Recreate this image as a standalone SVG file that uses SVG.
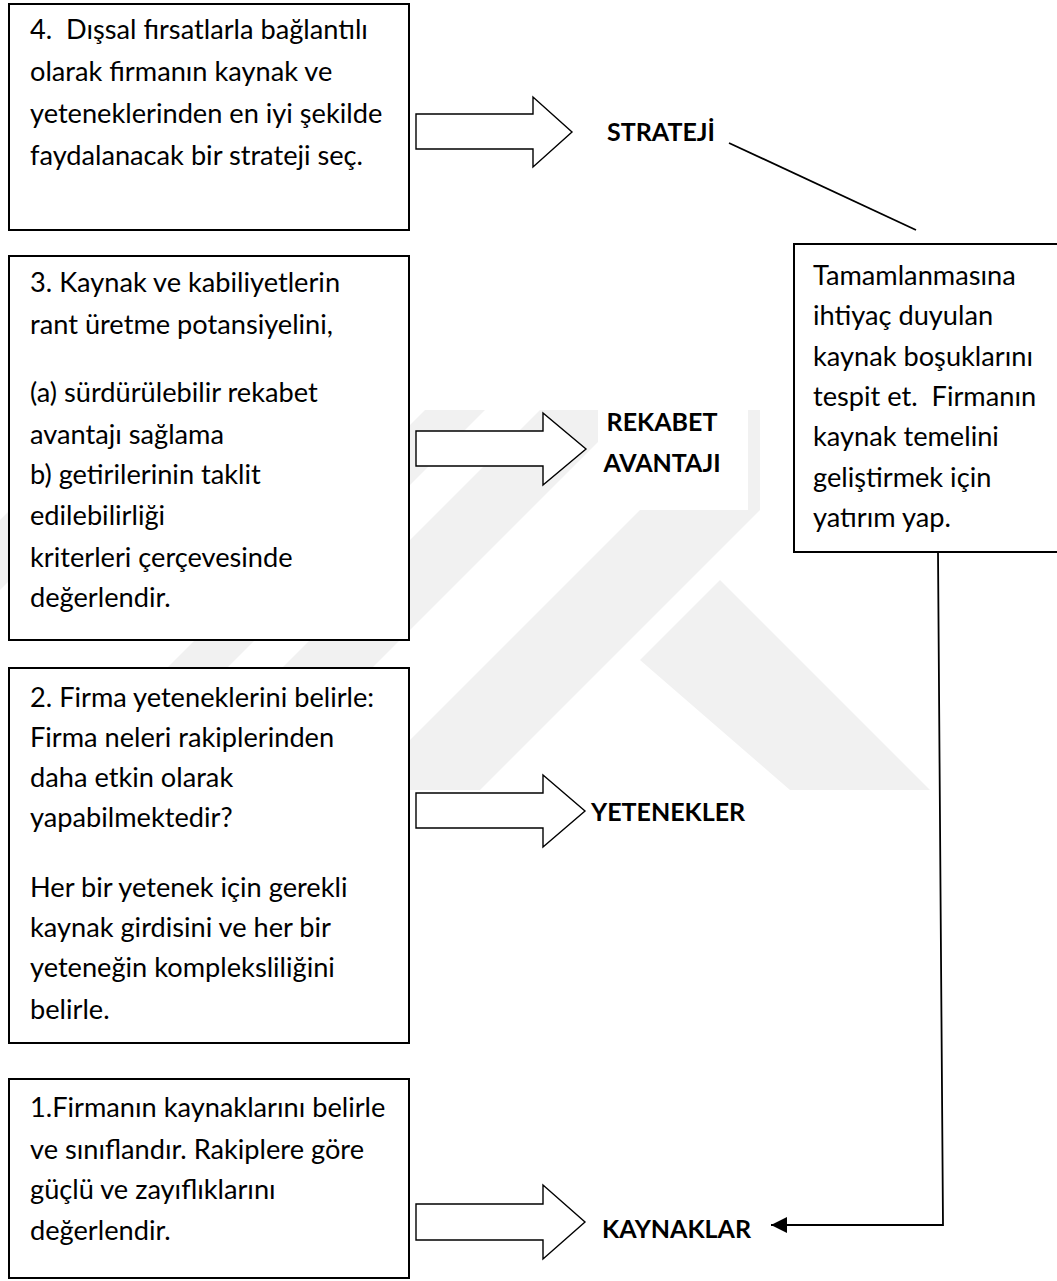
<svg xmlns="http://www.w3.org/2000/svg" width="1057" height="1281" viewBox="0 0 1057 1281">
  <style>
    .box { fill: #fff; stroke: #000; stroke-width: 2; }
    .blk { fill: #fff; stroke: #000; stroke-width: 1.4; stroke-linejoin: miter; }
    .t { font-family: Lato, "Open Sans", sans-serif; font-size: 27.2px; fill: #000; }
    .lbl { font-family: Lato, "Open Sans", sans-serif; font-weight: 700; font-size: 25px; fill: #000; }
    .wm { fill: #f1f1f1; }
    .conn { fill: none; stroke: #000; stroke-width: 1.8; }
  </style>
  <defs>
    <marker id="head" markerUnits="userSpaceOnUse" markerWidth="17" markerHeight="17" refX="16" refY="8" orient="auto">
      <path d="M0,0 L16,8 L0,16 Z" fill="#000"/>
    </marker>
  </defs>
  <rect width="1057" height="1281" fill="#fff"/>

  <!-- faint background emblem -->
  <g id="emblem">
    <polygon class="wm" points="0,520 0,590 180,410 110,410"/>
    <polygon class="wm" points="45,790 105,790 485,410 425,410"/>
    <polygon class="wm" points="160,790 250,790 630,410 540,410"/>
    <polygon class="wm" points="360,790 480,790 760,510 760,410 740,410"/>
    <polygon class="wm" points="640,660 720,580 930,790 790,790"/>
  </g>

  <!-- step boxes -->
  <g id="step4">
    <rect class="box" x="9" y="4" width="400" height="226"/>
    <text class="t" x="30" y="39">4.&#160; Dışsal fırsatlarla bağlantılı</text>
    <text class="t" x="30" y="81">olarak firmanın kaynak ve</text>
    <text class="t" x="30" y="123">yeteneklerinden en iyi şekilde</text>
    <text class="t" x="30" y="165">faydalanacak bir strateji seç.</text>
  </g>
  <g id="step3">
    <rect class="box" x="9" y="256" width="400" height="384"/>
    <text class="t" x="30" y="292">3. Kaynak ve kabiliyetlerin</text>
    <text class="t" x="30" y="334">rant üretme potansiyelini,</text>
    <text class="t" x="30" y="402">(a) sürdürülebilir rekabet</text>
    <text class="t" x="30" y="444">avantajı sağlama</text>
    <text class="t" x="30" y="484">b) getirilerinin taklit</text>
    <text class="t" x="30" y="525">edilebilirliği</text>
    <text class="t" x="30" y="567">kriterleri çerçevesinde</text>
    <text class="t" x="30" y="607">değerlendir.</text>
  </g>
  <g id="step2">
    <rect class="box" x="9" y="668" width="400" height="375"/>
    <text class="t" x="30" y="707">2. Firma yeteneklerini belirle:</text>
    <text class="t" x="30" y="747">Firma neleri rakiplerinden</text>
    <text class="t" x="30" y="787">daha etkin olarak</text>
    <text class="t" x="30" y="827">yapabilmektedir?</text>
    <text class="t" x="30" y="897">Her bir yetenek için gerekli</text>
    <text class="t" x="30" y="937">kaynak girdisini ve her bir</text>
    <text class="t" x="30" y="977">yeteneğin kompleksliliğini</text>
    <text class="t" x="30" y="1019">belirle.</text>
  </g>
  <g id="step1">
    <rect class="box" x="9" y="1079" width="400" height="199"/>
    <text class="t" x="30" y="1117">1.Firmanın kaynaklarını belirle</text>
    <text class="t" x="30" y="1159">ve sınıflandır. Rakiplere göre</text>
    <text class="t" x="30" y="1199">güçlü ve zayıflıklarını</text>
    <text class="t" x="30" y="1240">değerlendir.</text>
  </g>
  <g id="gaps">
    <rect class="box" x="794" y="244" width="272" height="308"/>
    <text class="t" x="813" y="285">Tamamlanmasına</text>
    <text class="t" x="813" y="325">ihtiyaç duyulan</text>
    <text class="t" x="813" y="366">kaynak boşuklarını</text>
    <text class="t" x="813" y="406">tespit et.&#160; Firmanın</text>
    <text class="t" x="813" y="446">kaynak temelini</text>
    <text class="t" x="813" y="487">geliştirmek için</text>
    <text class="t" x="813" y="527">yatırım yap.</text>
  </g>

  <!-- connectors -->
  <g id="connectors">
    <polygon class="blk" points="416,114 533,114 533,97 572,132 533,167 533,149 416,149"/>
    <polygon class="blk" points="416,431 543,431 543,413 586,449 543,485 543,466 416,466"/>
    <polygon class="blk" points="416,793 543,793 543,775 585,811 543,847 543,828 416,828"/>
    <polygon class="blk" points="416,1204 543,1204 543,1185 585,1222 543,1259 543,1240 416,1240"/>
    <line class="conn" x1="729" y1="143" x2="916" y2="230"/>
    <path class="conn" d="M938,552 L943,1225 L771,1225" marker-end="url(#head)"/>
  </g>

  <!-- outcome labels -->
  <g id="strateji">
    <text class="lbl" x="607" y="141">STRATEJİ</text>
  </g>
  <g id="rekabet">
    <rect x="598" y="408" width="150" height="102" fill="#fff"/>
    <text class="lbl" x="662" y="431" text-anchor="middle">REKABET</text>
    <text class="lbl" x="662" y="472" text-anchor="middle">AVANTAJI</text>
  </g>
  <g id="yetenekler">
    <text class="lbl" x="591" y="821">YETENEKLER</text>
  </g>
  <g id="kaynaklar">
    <text class="lbl" x="602" y="1238">KAYNAKLAR</text>
  </g>
</svg>
